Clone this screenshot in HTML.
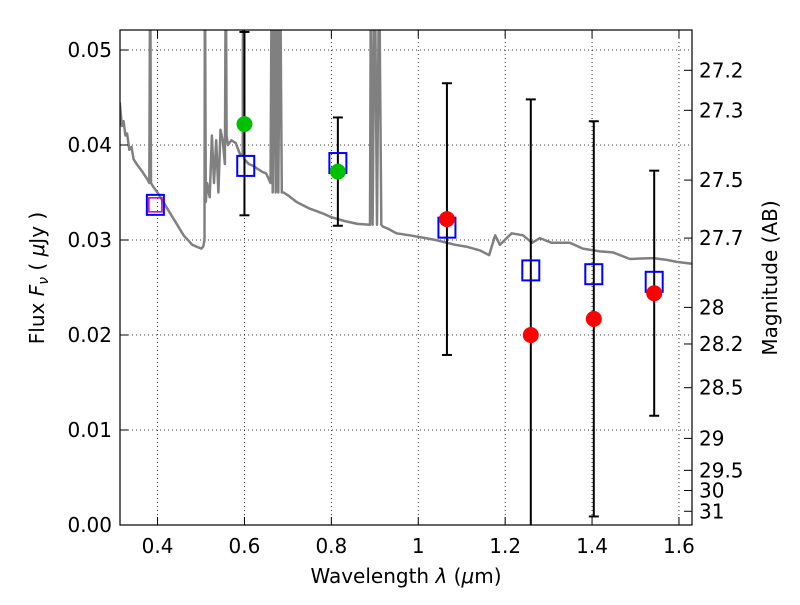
<!DOCTYPE html>
<html><head><meta charset="utf-8"><style>
body{margin:0;background:#fff}
svg text{font-family:"DejaVu Sans","Liberation Sans",sans-serif}
</style></head><body>
<svg id="chart" width="800" height="600" xmlns="http://www.w3.org/2000/svg">
<defs><clipPath id="clip"><rect x="120" y="30" width="572" height="495"/></clipPath></defs>
<rect x="0" y="0" width="800" height="600" fill="#fff"/>
<g id="grid"></g>
<g id="spec" clip-path="url(#clip)"></g>
<g id="marks" clip-path="url(#clip)"></g>
<rect x="120" y="30" width="572" height="495" fill="none" stroke="#000" stroke-width="1.2"/>
<g id="axes"></g>
<text x="406" y="583" font-size="20" text-anchor="middle">Wavelength  <tspan font-style="italic">λ</tspan> (<tspan font-style="italic">μ</tspan>m)</text>
<text transform="translate(44,278) rotate(-90)" font-size="20" text-anchor="middle">Flux  <tspan font-style="italic">F</tspan><tspan font-style="italic" font-size="14" dy="4">ν</tspan><tspan dy="-4">  ( </tspan><tspan font-style="italic">μ</tspan>Jy )</text>
<text transform="translate(777,278) rotate(-90)" font-size="20" text-anchor="middle">Magnitude (AB)</text>
</svg>
<script>
const xTicks=[0.4,0.6,0.8,1.0,1.2,1.4,1.6];
const xTickLabels=["0.4","0.6","0.8","1","1.2","1.4","1.6"];
const yTicks=[0,0.01,0.02,0.03,0.04,0.05];
const yTickLabels=["0.00","0.01","0.02","0.03","0.04","0.05"];
const magTicks=[27.2,27.3,27.5,27.7,28,28.2,28.5,29,29.5,30,31];
const magTickLabels=["27.2","27.3","27.5","27.7","28","28.2","28.5","29","29.5","30","31"];
const specLam=[0.313,0.318,0.322,0.326,0.33,0.335,0.34,0.345,0.355,0.365,0.375,0.381,0.383,0.385,0.39,0.40,0.42,0.44,0.46,0.48,0.495,0.501,0.505,0.508,0.509,0.511,0.514,0.52,0.525,0.53,0.535,0.54,0.545,0.55,0.555,0.557,0.559,0.562,0.57,0.58,0.59,0.596,0.597,0.599,0.60,0.61,0.62,0.63,0.64,0.65,0.66,0.663,0.665,0.668,0.672,0.675,0.678,0.682,0.686,0.69,0.70,0.72,0.75,0.78,0.80,0.83,0.86,0.889,0.891,0.895,0.90,0.905,0.91,0.915,0.919,0.93,0.95,0.98,1.004,1.04,1.085,1.11,1.142,1.163,1.177,1.188,1.215,1.241,1.262,1.28,1.307,1.349,1.379,1.418,1.448,1.487,1.54,1.572,1.595,1.63];
const specFlux=[0.0445,0.042,0.0425,0.041,0.0412,0.0395,0.0398,0.0385,0.0378,0.0372,0.0365,0.036,0.06,0.036,0.0356,0.035,0.0335,0.032,0.0305,0.0295,0.0292,0.0291,0.0293,0.03,0.06,0.034,0.036,0.0345,0.041,0.036,0.0405,0.035,0.0416,0.0405,0.038,0.06,0.041,0.04,0.0405,0.0402,0.039,0.039,0.06,0.039,0.0385,0.038,0.0378,0.0375,0.0372,0.037,0.036,0.06,0.035,0.06,0.035,0.06,0.035,0.06,0.035,0.035,0.0347,0.034,0.0333,0.0328,0.0324,0.032,0.0317,0.0316,0.06,0.0316,0.06,0.0316,0.06,0.0316,0.0314,0.0312,0.0307,0.0305,0.0303,0.03,0.0295,0.0293,0.0289,0.0284,0.0305,0.0295,0.0307,0.0305,0.0297,0.0302,0.0297,0.0297,0.0291,0.0288,0.0287,0.028,0.0281,0.0279,0.0277,0.0275];
const sqLam=[0.395,0.603,0.815,1.066,1.259,1.404,1.543];
const sqFlux=[0.0337,0.0378,0.0381,0.0313,0.0268,0.0264,0.0256];
const magentaLam=[0.395];
const magentaFlux=[0.0337];
const greenLam=[0.600,0.815];
const greenFlux=[0.0422,0.0372];
const redLam=[1.066,1.259,1.404,1.543];
const redFlux=[0.0322,0.0200,0.0217,0.0244];
const errLam=[0.600,0.815,1.066,1.259,1.404,1.543];
const errLow=[0.0326,0.0315,0.0179,-0.003,0.0009,0.0115];
const errHigh=[0.0519,0.0429,0.0465,0.0448,0.0425,0.0373];

const NS="http://www.w3.org/2000/svg";
const X=v=>120+(v-0.3136)/(1.630-0.3136)*572;
const Y=v=>525-v*9500;
const magToFlux=m=>Math.pow(10,(23.9-m)/2.5);
function mk(tag,attrs,parent){const e=document.createElementNS(NS,tag);for(const k in attrs)e.setAttribute(k,attrs[k]);document.getElementById(parent).appendChild(e);return e;}

xTicks.forEach((t,i)=>{
 let g=mk('line',{x1:X(t),x2:X(t),y1:30,y2:525,stroke:'#000','stroke-dasharray':'1,3','stroke-width':0.8},'grid');
 
 
 let a=mk('line',{x1:X(t),x2:X(t),y1:525,y2:517,stroke:'#000'},'axes');
 
 
 let b=mk('line',{x1:X(t),x2:X(t),y1:30,y2:38,stroke:'#000'},'axes');
 
 
 let l=mk('text',{x:X(t),y:553,'font-size':20,'text-anchor':'middle'},'axes');l.textContent=xTickLabels[i];
 
 
});
yTicks.forEach((t,i)=>{
 let g=mk('line',{x1:120,x2:692,y1:Y(t),y2:Y(t),stroke:'#000','stroke-dasharray':'1,3','stroke-width':0.8},'grid');
 
 
 let a=mk('line',{x1:120,x2:128,y1:Y(t),y2:Y(t),stroke:'#000'},'axes');
 
 
 let l=mk('text',{x:112,y:Y(t)+7,'font-size':20,'text-anchor':'end'},'axes');l.textContent=yTickLabels[i];
 
 
});
magTicks.forEach((m,i)=>{
 const y=Y(magToFlux(m));
 let a=mk('line',{x1:684,x2:692,y1:y,y2:y,stroke:'#000'},'axes');
 
 
 let l=mk('text',{x:699,y:y+7,'font-size':20,'text-anchor':'start'},'axes');l.textContent=magTickLabels[i];
 
 
});
let pts=specLam.map((l,i)=>X(l).toFixed(1)+','+Y(specFlux[i]).toFixed(1)).join(' ');
let sp=mk('polyline',{points:pts,fill:'none',stroke:'#808080','stroke-width':2.5,'stroke-linejoin':'round'},'spec');


errLam.forEach((l,i)=>{
 let e=mk('line',{x1:X(l),x2:X(l),y1:Y(errLow[i]),y2:Y(errHigh[i]),stroke:'#000','stroke-width':2},'marks');
 
 
 [errLow[i],errHigh[i]].forEach(v=>{let c=mk('line',{x1:X(l)-5,x2:X(l)+5,y1:Y(v),y2:Y(v),stroke:'#000','stroke-width':2},'marks');
 
 });
});
sqLam.forEach((l,i)=>{
 let s=mk('rect',{x:X(l)-8.5,y:Y(sqFlux[i])-10,width:17,height:20,fill:'none',stroke:'#0000ff','stroke-width':2},'marks');
 
 
});
magentaLam.forEach((l,i)=>{
 let s=mk('rect',{x:X(l)-6.5,y:Y(magentaFlux[i])-7,width:13,height:14,fill:'none',stroke:'#c000c0','stroke-width':1.5},'marks');
 
 
});
greenLam.forEach((l,i)=>{
 let c=mk('circle',{cx:X(l),cy:Y(greenFlux[i]),r:8,fill:'#00c000'},'marks');
 
 
});
redLam.forEach((l,i)=>{
 let c=mk('circle',{cx:X(l),cy:Y(redFlux[i]),r:8,fill:'#ff0000'},'marks');
 
 
});
</script>
</body></html>
